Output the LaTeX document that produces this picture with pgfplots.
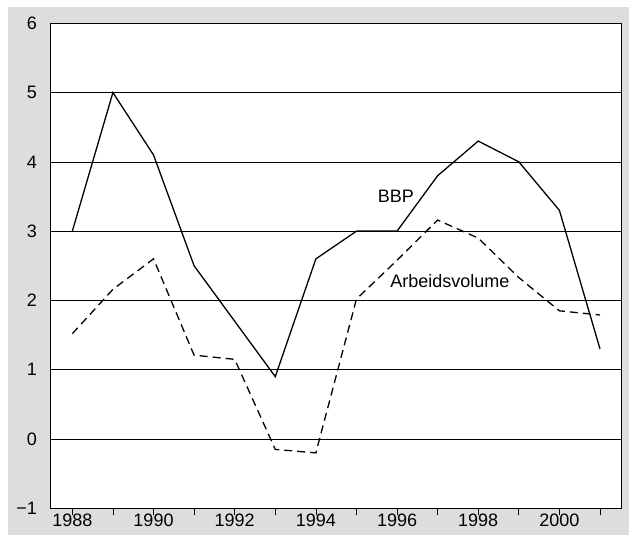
\documentclass[border=0pt]{standalone}
\usepackage{pgfplots}
\pgfplotsset{compat=1.18}
\usepackage{fontspec}
\setmainfont{Liberation Sans}
\definecolor{bggray}{HTML}{DCDDDF}
\begin{document}
\fontsize{18bp}{21bp}\selectfont
\begin{tikzpicture}[x=1bp,y=1bp]
\useasboundingbox (0,0) rectangle (629,535);
\fill[bggray] (8,0) rectangle (629,527.5);
\begin{axis}[
  at={(50bp,26.7bp)}, anchor=south west,
  width=571.5bp, height=485bp, scale only axis,
  xmin=1987.45, xmax=2001.53, ymin=-1, ymax=6,
  axis background/.style={fill=white},
  axis line style={line width=0.8bp},
  xtick={1988,1990,...,2000},
  xticklabels={1988,1990,1992,1994,1996,1998,2000},
  minor xtick={1989,1991,...,2001},
  xtick pos=bottom, tick align=outside,
  major tick length=7bp, minor tick length=7bp,
  every tick/.style={black, line width=0.7bp},
  ytick={-1,0,...,6},
  yticklabels={−1,0,1,2,3,4,5,6},
  ytick style={draw=none},
  ymajorgrids, major grid style={black, line width=0.6bp},
  tick label style={font=\fontsize{18bp}{21bp}\selectfont},
  xticklabel style={yshift=3bp, inner sep=1bp},
  /pgf/number format/assume math mode=true,
]
\addplot[black, line width=1.3bp] coordinates {
  (1988,3.0) (1989,5.0) (1990,4.1) (1991,2.5) (1992,1.7) (1993,0.9) (1994,2.6)
  (1995,3.0) (1996,3.0) (1997,3.8) (1998,4.3) (1999,4.0) (2000,3.3) (2001,1.3)};
\addplot[black, line width=1.3bp, dash pattern=on 8bp off 5bp] coordinates {
  (1988,1.52) (1989,2.16) (1990,2.6) (1991,1.21) (1992,1.15) (1993,-0.15) (1994,-0.2)
  (1995,2.02) (1996,2.58) (1997,3.16) (1998,2.9) (1999,2.33) (2000,1.85) (2001,1.79)};
\node at (axis cs:1995.97,3.51) {BBP};
\node at (axis cs:1997.30,2.28) {Arbeidsvolume};
\end{axis}
\end{tikzpicture}
\end{document}
